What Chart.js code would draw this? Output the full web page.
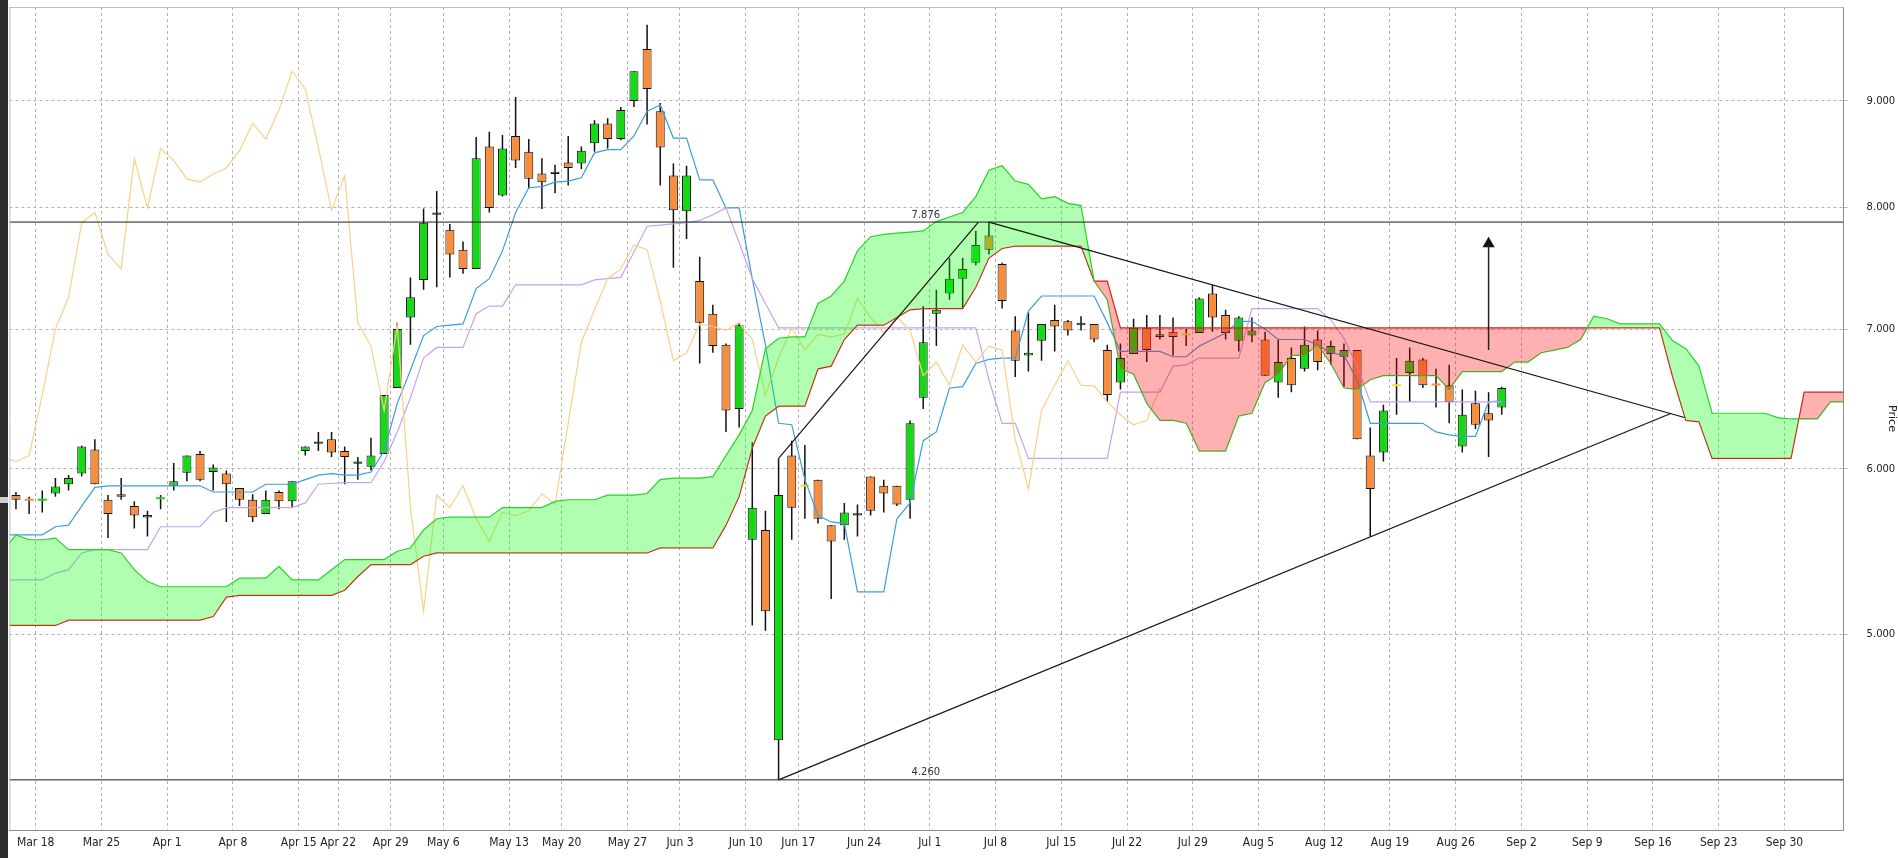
<!DOCTYPE html>
<html><head><meta charset="utf-8">
<script src="https://cdn.jsdelivr.net/npm/chart.js@4.4.1/dist/chart.umd.min.js"></script>
<style>
html,body{margin:0;padding:0;background:#fff;overflow:hidden}
#wrap{position:relative;width:1898px;height:858px}
#c{position:absolute;left:0;top:0}
#strip{position:absolute;left:0;top:0;width:8px;height:858px;background:#2d2d2d}
#strip2{position:absolute;left:0;top:497px;width:8px;height:6px;background:#d0d0d0}
</style></head>
<body><div id="wrap"><canvas id="c" width="1898" height="858"></canvas><div id="strip"></div><div id="strip2"></div></div>
<script>
// ---- tick labels (week starts, trading-day slot index) ----
const tickSlots = [2,7,12,17,22,25,29,33,38,42,47,51,56,60,65,70,75,80,85,90,95,100,105,110,115,120,125,130,135];
const tickLabels = ['Mar 18','Mar 25','Apr 1','Apr 8','Apr 15','Apr 22','Apr 29','May 6','May 13','May 20','May 27','Jun 3','Jun 10','Jun 17','Jun 24','Jul 1','Jul 8','Jul 15','Jul 22','Jul 29','Aug 5','Aug 12','Aug 19','Aug 26','Sep 2','Sep 9','Sep 16','Sep 23','Sep 30'];
const yTicks = [5,6,7,8,9];

// ---- candles (one per trading day, from Mar 14) ----
const open = [5.83,5.80,5.80,5.84,5.90,5.97,6.13,5.80,5.835,5.76,
 5.688,5.81,5.89,5.975,6.10,5.98,5.97,5.875,5.80,5.71,
 5.85,5.79,6.12,6.17,6.20,6.12,6.035,6.015,6.10,6.56,
 7.09,7.39,7.94,7.81,7.64,7.48,8.56,8.11,8.66,8.51,
 8.31,8.325,8.41,8.40,8.59,8.78,8.63,9.00,9.53,8.90,
 8.29,7.97,7.38,7.12,6.88,6.41,5.55,5.61,4.45,6.09,
 5.89,5.93,5.64,5.64,5.715,5.95,5.89,5.89,5.80,6.49,
 7.12,7.28,7.40,7.53,7.76,7.52,6.99,6.80,6.91,7.07,
 7.06,7.03,7.04,6.84,6.60,6.81,7.01,6.94,6.98,6.96,
 6.97,7.28,7.11,6.91,6.95,6.92,6.60,6.78,6.70,6.92,
 6.81,6.79,6.84,6.09,6.11,6.58,6.67,6.77,6.585,6.58,
 6.15,6.45,6.38,6.42];
const high = [5.85,5.82,5.86,5.94,5.96,6.155,6.20,5.83,5.94,5.79,
 5.73,5.83,6.04,6.09,6.12,6.03,5.99,5.875,5.835,5.86,
 5.86,5.92,6.15,6.25,6.25,6.15,6.08,6.21,6.51,7.05,
 7.41,7.995,8.15,7.86,7.71,8.65,8.70,8.67,9.04,8.63,
 8.45,8.39,8.66,8.56,8.81,8.83,8.94,9.30,9.79,8.98,
 8.40,8.38,7.58,7.19,6.89,7.05,6.18,5.73,6.07,6.19,
 6.16,5.93,5.64,5.78,5.77,5.95,5.93,5.89,6.33,7.18,
 7.31,7.57,7.57,7.80,7.876,7.53,7.10,7.13,7.04,7.19,
 7.07,7.10,7.04,6.88,6.89,7.08,7.11,7.11,7.09,7.00,
 7.25,7.35,7.15,7.10,7.09,6.98,6.92,6.86,7.02,6.99,
 6.91,6.89,6.84,6.28,6.44,6.78,6.86,6.78,6.70,6.73,
 6.55,6.54,6.53,6.57];
const low = [5.74,5.71,5.72,5.82,5.86,5.95,5.90,5.56,5.80,5.62,
 5.57,5.74,5.86,5.92,5.92,5.86,5.66,5.76,5.66,5.71,
 5.74,5.75,6.09,6.12,6.08,5.90,5.93,5.99,6.10,6.56,
 6.88,7.31,7.33,7.41,7.44,7.48,7.96,8.10,8.36,8.17,
 7.99,8.13,8.20,8.35,8.51,8.54,8.62,8.94,8.77,8.20,
 7.49,7.73,6.74,6.82,6.25,6.28,5.05,5.02,4.26,5.55,
 5.68,5.65,5.20,5.55,5.57,5.70,5.72,5.76,5.68,6.41,
 6.87,7.23,7.16,7.51,7.60,7.16,6.64,6.68,6.76,6.83,
 6.95,6.99,6.90,6.46,6.55,6.81,6.75,6.92,6.80,6.87,
 6.97,6.98,6.92,6.83,6.90,6.65,6.49,6.53,6.68,6.69,
 6.73,6.57,6.20,5.57,6.05,6.37,6.46,6.56,6.42,6.31,
 6.11,6.27,6.08,6.37];
const close = [5.80,5.79,5.81,5.885,5.94,6.15,5.90,5.71,5.82,5.70,
 5.703,5.815,5.92,6.09,5.93,6.01,5.90,5.80,5.69,5.80,
 5.79,5.92,6.15,6.185,6.11,6.08,6.05,6.09,6.51,7.00,
 7.25,7.87,7.96,7.60,7.48,8.45,8.00,8.54,8.43,8.26,
 8.23,8.305,8.36,8.52,8.78,8.63,8.91,9.30,9.12,8.55,
 7.98,8.29,7.05,6.87,6.40,7.03,5.75,5.13,5.83,5.75,
 5.89,5.68,5.54,5.72,5.70,5.73,5.84,5.77,6.31,6.90,
 7.15,7.40,7.48,7.68,7.64,7.22,6.76,6.82,7.04,7.02,
 6.99,7.05,6.92,6.51,6.78,7.01,6.84,6.96,6.94,6.96,
 7.24,7.09,6.97,7.09,6.99,6.65,6.75,6.58,6.88,6.75,
 6.87,6.84,6.20,5.87,6.40,6.58,6.76,6.58,6.575,6.46,
 6.37,6.30,6.33,6.56];

// ---- Ichimoku lines (first value = day before the first candle) ----
const tenkan = [5.58,
 5.58,5.58,5.58,5.63,5.64,5.76,5.88,5.89,5.89,5.89,
 5.89,5.89,5.89,5.89,5.89,5.85,5.85,5.85,5.85,5.90,
 5.90,5.90,5.93,5.96,5.97,5.96,5.96,5.98,6.12,6.45,
 6.69,6.95,7.02,7.03,7.04,7.32,7.40,7.63,7.96,8.18,
 8.19,8.23,8.24,8.27,8.50,8.53,8.53,8.66,8.90,8.96,
 8.64,8.64,8.25,8.25,8.00,8.00,7.40,6.88,6.31,6.30,
 5.93,5.70,5.66,5.65,5.24,5.24,5.24,5.68,5.78,6.19,
 6.25,6.56,6.57,6.74,6.77,6.78,6.78,7.14,7.26,7.26,
 7.26,7.26,7.26,7.05,6.83,6.83,6.83,6.83,6.79,6.79,
 6.87,6.92,6.97,7.06,7.06,7.00,6.92,6.92,6.92,6.88,
 6.82,6.80,6.62,6.31,6.31,6.31,6.31,6.31,6.25,6.23,
 6.22,6.22,6.46,6.47];
const kijun = [5.31,
 5.31,5.31,5.31,5.35,5.37,5.47,5.49,5.49,5.49,5.49,
 5.49,5.63,5.63,5.63,5.63,5.72,5.75,5.75,5.75,5.75,
 5.75,5.75,5.78,5.90,5.905,5.91,5.91,5.91,6.05,6.25,
 6.49,6.78,6.86,6.86,6.86,7.12,7.18,7.18,7.35,7.35,
 7.35,7.35,7.35,7.35,7.39,7.40,7.41,7.62,7.84,7.85,
 7.86,7.87,7.89,7.94,8.00,7.70,7.40,7.20,7.01,7.01,
 7.01,7.01,7.01,7.01,7.01,7.01,7.01,7.01,7.01,7.01,
 7.01,7.01,7.01,7.01,6.62,6.31,6.31,6.07,6.07,6.07,
 6.07,6.07,6.07,6.07,6.53,6.53,6.53,6.53,6.72,6.73,
 6.78,6.78,6.78,6.78,7.16,7.16,7.16,7.16,7.16,7.16,
 7.07,6.93,6.72,6.46,6.46,6.46,6.46,6.46,6.46,6.46,
 6.46,6.46,6.46,6.46];
const chikou = [6.08,
 6.05,6.09,6.51,7.00,7.25,7.87,7.96,7.60,7.48,8.45,
 8.00,8.54,8.43,8.26,8.23,8.305,8.36,8.52,8.78,8.63,
 8.91,9.30,9.12,8.55,7.98,8.29,7.05,6.87,6.40,7.03,
 5.75,5.13,5.83,5.75,5.89,5.68,5.54,5.72,5.70,5.73,
 5.84,5.77,6.31,6.90,7.15,7.40,7.48,7.68,7.64,7.22,
 6.76,6.82,7.04,7.02,6.99,7.05,6.92,6.51,6.78,7.01,
 6.84,6.96,6.94,6.96,7.24,7.09,6.97,7.09,6.99,6.65,
 6.75,6.58,6.88,6.75,6.87,6.84,6.20,5.87,6.40,6.58,
 6.76,6.58,6.575,6.46,6.37,6.30,6.33,6.56];
const spanA = [5.48,
 5.58,5.55,5.55,5.56,5.49,5.49,5.49,5.49,5.47,5.37,
 5.30,5.27,5.27,5.27,5.27,5.27,5.27,5.32,5.32,5.32,
 5.39,5.31,5.31,5.31,5.37,5.43,5.43,5.43,5.43,5.48,
 5.50,5.61,5.68,5.69,5.69,5.69,5.69,5.75,5.75,5.75,
 5.75,5.79,5.80,5.80,5.80,5.83,5.83,5.83,5.84,5.93,
 5.94,5.94,5.94,5.95,6.09,6.23,6.40,6.85,6.93,6.94,
 6.94,7.20,7.26,7.38,7.63,7.75,7.77,7.78,7.79,7.80,
 7.88,7.92,7.96,8.10,8.34,8.38,8.24,8.21,8.08,8.10,
 8.04,8.02,7.38,7.23,6.70,6.66,6.45,6.33,6.33,6.31,
 6.12,6.12,6.12,6.36,6.38,6.60,6.66,6.80,6.80,6.88,
 6.74,6.56,6.55,6.62,6.65,6.65,6.65,6.65,6.65,6.55,
 6.68,6.68,6.68,6.68,6.75,6.75,6.82,6.84,6.86,6.92,
 7.10,7.08,7.04,7.04,7.04,7.04,6.91,6.85,6.72,6.38,
 6.38,6.38,6.38,6.38,6.35,6.34,6.34,6.34,6.46,6.46];
const spanB = [5.05,
 5.05,5.05,5.05,5.05,5.08,5.08,5.08,5.08,5.08,5.08,
 5.08,5.08,5.08,5.08,5.08,5.10,5.21,5.22,5.22,5.22,
 5.22,5.22,5.22,5.22,5.22,5.25,5.33,5.40,5.40,5.40,
 5.40,5.45,5.47,5.47,5.47,5.47,5.47,5.47,5.47,5.47,
 5.47,5.47,5.47,5.47,5.47,5.47,5.47,5.47,5.47,5.50,
 5.50,5.50,5.50,5.50,5.64,5.82,6.14,6.36,6.43,6.43,
 6.43,6.70,6.72,6.92,7.03,7.03,7.03,7.09,7.15,7.16,
 7.16,7.16,7.16,7.33,7.57,7.65,7.67,7.67,7.67,7.67,
 7.67,7.67,7.38,7.38,7.01,7.01,7.01,7.01,7.01,7.01,
 7.01,7.01,7.01,7.01,7.01,7.01,7.01,7.01,7.01,7.01,
 7.01,7.01,7.01,7.01,7.01,7.01,7.01,7.01,7.01,7.01,
 7.01,7.01,7.01,7.01,7.01,7.01,7.01,7.01,7.01,7.01,
 7.01,7.01,7.01,7.01,7.01,7.01,6.64,6.33,6.32,6.07,
 6.07,6.07,6.07,6.07,6.07,6.07,6.53,6.53,6.53,6.53];

// ---- drawn levels / trend lines (slot, price) ----
const levels = [7.876, 4.26];
const levelLabels = ['7.876', '4.260'];
const trendRise = [[58.5, 6.07], [73.7, 7.876]];
const trendFall = [[74.5, 7.876], [127.4, 6.35]];
const trendLow  = [[58.5, 4.26], [126.4, 6.38]];
const arrowFrom = [112.5, 6.84], arrowTo = [112.5, 7.69];

// ---------------------------------------------------------
const X_MIN = 0, X_MAX = 139.5, LABEL_SLOT = 69.7;
const GREEN = '#16d816', ORANGE = '#f78e3e', YELLOW = '#f0e03a';
const pts = (arr, start) => arr.map((v, i) => ({x: start + i, y: v}));
const pairs = a => a.map(p => ({x: p[0], y: p[1]}));
const isDash = i => Math.abs(close[i] - open[i]) < 0.011;

const wickData = open.map((o, i) => ({x: i + 0.5, y: [low[i], high[i]]}));
const bodyData = [], dojiData = [];
open.forEach((o, i) => {
  if (isDash(i)) {
    dojiData.push({x: i + 0.5, y: o, col: close[i] > o ? GREEN : (close[i] < o ? ORANGE : YELLOW)});
  } else {
    bodyData.push({x: i + 0.5, y: [o, close[i]]});
  }
});

const line = (data, color, width, order, extra) => Object.assign({
  type: 'line', data, borderColor: color, borderWidth: width, pointRadius: 0,
  pointHoverRadius: 0, tension: 0, fill: false, order
}, extra || {});

const datasets = [
  {type: 'bar', data: wickData, backgroundColor: '#111', borderWidth: 0, barThickness: 1.5,
   grouped: false, inflateAmount: 0, order: 10},
  {type: 'bar', data: bodyData,
   backgroundColor: c => (c.raw && c.raw.y && c.raw.y[1] < c.raw.y[0]) ? ORANGE : GREEN,
   borderColor: '#111', borderWidth: 1, borderSkipped: false, barThickness: 9,
   grouped: false, inflateAmount: 0, order: 9},
  line(dojiData, 'rgba(0,0,0,0)', 0, 8, {showLine: false, pointStyle: 'line', pointRadius: 4.5,
   pointBorderWidth: 2, pointBorderColor: c => (c.raw && c.raw.col) || YELLOW}),
  line(pts(chikou, -0.5), '#fccf87', 1.2, 7),
  line(pts(kijun, -0.5), '#c6a2ec', 1.2, 7),
  line(pts(tenkan, -0.5), '#3c9ddd', 1.2, 7),
  line(pts(spanA, -0.5), '#2dcc2d', 1.2, 6),
  line(pts(spanB, -0.5), '#dc1c1c', 1.2, 6)
];
const idxB = datasets.length - 1;
datasets.push(line(pts(spanA, -0.5), 'rgba(0,0,0,0)', 0, 5, {
  fill: {target: idxB, above: 'rgba(0,255,0,0.31)', below: 'rgba(255,0,0,0.31)'}}));
levels.forEach(lv => datasets.push(line([{x: X_MIN, y: lv}, {x: X_MAX, y: lv}], '#1a1a1a', 1, 4)));
[trendRise, trendFall, trendLow].forEach(t => datasets.push(line(pairs(t), '#151515', 1.2, 3)));
datasets.push(line(pairs([arrowFrom, arrowTo]), '#222', 1.5, 2));
datasets.push(line([{x: arrowTo[0], y: arrowTo[1]}], '#111', 0, 2, {showLine: false, pointStyle: 'triangle',
  pointRadius: 7, pointBackgroundColor: '#111', pointBorderColor: '#111', pointBorderWidth: 0}));

const annot = {
  id: 'annot',
  afterDatasetsDraw(chart) {
    const {ctx, chartArea: a, scales: {x, y}} = chart;
    ctx.save();
    ctx.font = '10px "DejaVu Sans", sans-serif';
    ctx.fillStyle = '#333';
    ctx.textAlign = 'center';
    ctx.textBaseline = 'bottom';
    levels.forEach((lv, i) => ctx.fillText(levelLabels[i], x.getPixelForValue(LABEL_SLOT), y.getPixelForValue(lv) - 2));
    ctx.strokeStyle = '#bdbdbd';
    ctx.lineWidth = 1;
    ctx.beginPath();
    ctx.moveTo(a.left, a.top + 0.5); ctx.lineTo(a.right, a.top + 0.5);
    ctx.moveTo(a.left + 0.5, a.top); ctx.lineTo(a.left + 0.5, a.bottom);
    ctx.stroke();
    ctx.restore();
  }
};

const fontX = '"Liberation Sans Narrow", "DejaVu Sans Condensed", "Liberation Sans", sans-serif';
const fontY = '"DejaVu Sans", sans-serif';

new Chart(document.getElementById('c'), {
  type: 'bar',
  data: {datasets},
  plugins: [annot],
  options: {
    responsive: false, animation: false, devicePixelRatio: 1, events: [],
    layout: {padding: {left: 9.4, top: 1, right: 0, bottom: 0}},
    plugins: {legend: {display: false}, tooltip: {enabled: false}},
    scales: {
      x: {
        type: 'linear', min: X_MIN, max: X_MAX, offset: false,
        afterBuildTicks: s => { s.ticks = tickSlots.map(v => ({value: v})); },
        afterFit: s => { s.height = 28; s.paddingLeft = 0; s.paddingRight = 0; },
        ticks: {autoSkip: false, maxRotation: 0, padding: 6, color: '#222',
          font: {family: fontX, size: 12}, callback: (v, i) => tickLabels[i]},
        grid: {offset: false, color: '#b3b3b3', lineWidth: 1, drawTicks: false},
        border: {display: true, color: '#8e8e8e', width: 1, dash: [3, 3]}
      },
      y: {
        type: 'logarithmic', position: 'right', min: 4.031, max: 9.982, bounds: 'data',
        afterBuildTicks: s => { s.ticks = yTicks.map(v => ({value: v})); },
        afterFit: s => { s.width = 54.4; s.paddingTop = 0; s.paddingBottom = 0; },
        ticks: {padding: 19, color: '#222', font: {family: fontY, size: 10},
          callback: v => Number(v).toFixed(3)},
        grid: {color: '#b3b3b3', lineWidth: 1, drawTicks: true, tickLength: 4},
        border: {display: true, color: '#8e8e8e', width: 1, dash: [3, 3]},
        title: {display: true, text: 'Price', color: '#222', font: {family: fontY, size: 11},
          padding: {top: 0, bottom: 2}}
      }
    }
  }
});
</script></body></html>
